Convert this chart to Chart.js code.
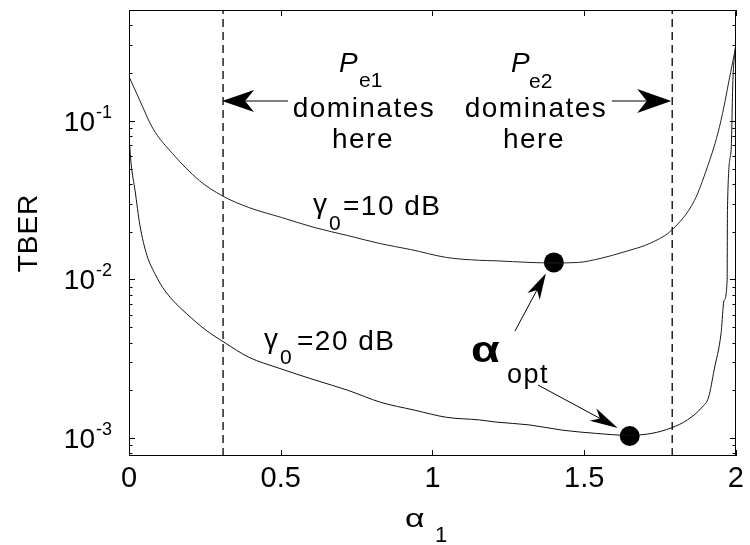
<!DOCTYPE html>
<html><head><meta charset="utf-8">
<script src="https://cdn.jsdelivr.net/npm/chart.js@4.4.1/dist/chart.umd.min.js"></script>
<style>html,body{margin:0;padding:0;background:#fff}#wrap{width:750px;height:545px}</style>
</head><body><div id="wrap"><canvas id="c" width="750" height="545"></canvas></div>
<script>
// ---- data ----
const alpha10 = [0, 0.036, 0.078, 0.144, 0.232, 0.307, 0.395, 0.502, 0.613, 0.721, 0.829, 0.927, 1.047, 1.155, 1.21, 1.318, 1.4, 1.481, 1.556, 1.631, 1.723, 1.79, 1.863, 1.905, 1.94, 1.961, 1.975, 1.99, 2.0];
const tber10  = [0.19, 0.134, 0.090, 0.062, 0.042, 0.0337, 0.0284, 0.0246, 0.0212, 0.0189, 0.0168, 0.01545, 0.01375, 0.0132, 0.0131, 0.0128, 0.0127, 0.0128, 0.0136, 0.0149, 0.0171, 0.0206, 0.0314, 0.0506, 0.0828, 0.124, 0.171, 0.238, 0.296];
const alpha20 = [0, 0.007, 0.02, 0.036, 0.059, 0.085, 0.111, 0.144, 0.189, 0.254, 0.313, 0.395, 0.493, 0.613, 0.721, 0.829, 0.94, 1.047, 1.155, 1.21, 1.318, 1.429, 1.537, 1.644, 1.723, 1.788, 1.84, 1.889, 1.91, 1.928, 1.951, 1.961, 1.971, 1.972, 1.984, 1.99, 2.0];
const tber20  = [0.08, 0.0537, 0.0363, 0.0219, 0.0142, 0.0109, 0.0089, 0.0074, 0.0061, 0.00478, 0.00402, 0.00323, 0.00276, 0.00232, 0.0020, 0.00168, 0.0015, 0.00135, 0.0013, 0.00126, 0.00121, 0.00112, 0.00107, 0.00104, 0.00107, 0.00116, 0.0013, 0.00157, 0.00181, 0.00268, 0.00457, 0.00738, 0.0099, 0.0272, 0.0647, 0.179, 0.318];
const optAlpha = [1.4, 1.65];
const optTber  = [0.0128, 0.00103];
const boundaryAlpha = [0.31, 1.79];
const xTickValues = [0, 0.5, 1, 1.5, 2];
const yTickValues = [0.001, 0.01, 0.1];
const yTickExponents = ['-3', '-2', '-1'];
const yMin = 7.7e-4, yMax = 0.5;

const FONT = '"Liberation Sans", Arial, Helvetica, sans-serif';
const pts = (xs, ys) => xs.map((x, i) => ({x: x, y: ys[i]}));

function arrow(ctx, x1, y1, x2, y2, len, half) {
  const dx = x2 - x1, dy = y2 - y1, L = Math.hypot(dx, dy);
  const ux = dx / L, uy = dy / L, nx = -uy, ny = ux;
  const bx = x2 - ux * len, by = y2 - uy * len;
  const mx = x2 - ux * len * 0.72, my = y2 - uy * len * 0.72;
  ctx.beginPath(); ctx.moveTo(x1, y1); ctx.lineTo(mx, my); ctx.stroke();
  ctx.beginPath();
  ctx.moveTo(x2, y2);
  ctx.lineTo(bx + nx * half, by + ny * half);
  ctx.lineTo(mx, my);
  ctx.lineTo(bx - nx * half, by - ny * half);
  ctx.closePath(); ctx.fill();
}
function txt(ctx, s, x, y, size, opts) {
  opts = opts || {};
  ctx.font = (opts.style || '') + ' ' + size + 'px ' + FONT;
  ctx.textAlign = opts.align || 'left';
  ctx.textBaseline = 'alphabetic';
  try { ctx.letterSpacing = (opts.ls || 0) + 'px'; } catch (e) {}
  ctx.fillText(s, x, y);
  try { ctx.letterSpacing = '0px'; } catch (e) {}
}

const decor = {
  id: 'decor',
  afterDraw(chart) {
    const ctx = chart.ctx, a = chart.chartArea;
    const xs = chart.scales.x, ys = chart.scales.y;
    ctx.save();
    ctx.strokeStyle = '#000'; ctx.fillStyle = '#000'; ctx.lineWidth = 1;
    // frame
    ctx.strokeRect(Math.round(a.left) + 0.5, Math.round(a.top) + 0.5, Math.round(a.right - a.left) - 1, Math.round(a.bottom - a.top) - 1);
    // inward ticks
    ctx.beginPath();
    xTickValues.forEach(v => {
      const px = Math.round(xs.getPixelForValue(v)) + 0.5;
      ctx.moveTo(px, a.bottom); ctx.lineTo(px, a.bottom - 6);
      ctx.moveTo(px, a.top); ctx.lineTo(px, a.top + 6);
    });
    for (let e = -4; e <= 0; e++) {
      for (let m = 1; m <= 9; m++) {
        const v = m * Math.pow(10, e);
        if (v < yMin || v > yMax) continue;
        const py = Math.round(ys.getPixelForValue(v)) + 0.5;
        const len = m === 1 ? 6 : 3.5;
        ctx.moveTo(a.left, py); ctx.lineTo(a.left + len, py);
        ctx.moveTo(a.right, py); ctx.lineTo(a.right - len, py);
      }
    }
    ctx.stroke();
    // y tick labels 10^k
    yTickValues.forEach((v, i) => {
      const py = ys.getPixelForValue(v);
      txt(ctx, yTickExponents[i], 112, py - 3, 18, {align: 'right'});
      ctx.font = '18px ' + FONT;
      const w = ctx.measureText(yTickExponents[i]).width;
      txt(ctx, '10', 112 - w - 1, py + 10, 28, {align: 'right'});
    });
    // y title
    ctx.save();
    ctx.translate(27, (a.top + a.bottom) / 2);
    ctx.rotate(-Math.PI / 2);
    txt(ctx, 'TBER', 0, 10, 28, {align: 'center', ls: 1});
    ctx.restore();
    // x title alpha_1
    ctx.save(); ctx.translate(405, 527); ctx.scale(1.35, 1);
    txt(ctx, '\u03b1', 0, 0, 25, {}); ctx.restore();
    txt(ctx, '1', 435, 542, 22, {});
    // P_e1 / P_e2 annotations
    txt(ctx, 'P', 339, 72, 28, {style: 'italic'});
    txt(ctx, 'e1', 359, 87, 21, {});
    txt(ctx, 'dominates', 364, 117, 28, {align: 'center', ls: 1.5});
    txt(ctx, 'here', 363, 148, 28, {align: 'center', ls: 1.5});
    txt(ctx, 'P', 511, 72, 28, {style: 'italic'});
    txt(ctx, 'e2', 529, 88, 21, {});
    txt(ctx, 'dominates', 536, 117, 28, {align: 'center', ls: 1.5});
    txt(ctx, 'here', 534, 148, 28, {align: 'center', ls: 1.5});
    const b1 = xs.getPixelForValue(boundaryAlpha[0]);
    const b2 = xs.getPixelForValue(boundaryAlpha[1]);
    arrow(ctx, 288, 101, b1 - 1, 101, 32, 11);
    arrow(ctx, 612, 101, b2 - 1, 101, 34, 12);
    // gamma labels
    txt(ctx, '\u03b3', 313, 213, 28, {});
    txt(ctx, '0', 329, 230, 21, {});
    txt(ctx, '=10 dB', 343, 215, 28, {ls: 1.5});
    txt(ctx, '\u03b3', 264, 348, 28, {});
    txt(ctx, '0', 280, 364, 21, {});
    txt(ctx, '=20 dB', 297, 350, 28, {ls: 1.5});
    // alpha_opt
    ctx.save(); ctx.translate(471, 362); ctx.scale(1.3, 1);
    txt(ctx, '\u03b1', 0, 0, 36, {style: 'bold'}); ctx.restore();
    txt(ctx, 'opt', 507, 383, 27, {ls: 1.5});
    const d1x = xs.getPixelForValue(optAlpha[0]), d1y = ys.getPixelForValue(optTber[0]);
    const d2x = xs.getPixelForValue(optAlpha[1]), d2y = ys.getPixelForValue(optTber[1]);
    arrow(ctx, 515, 331, d1x - 8, d1y + 11, 26, 7);
    arrow(ctx, 538, 385, d2x - 12, d2y - 8, 28, 7);
    ctx.restore();
  }
};

const vline = (b) => ({
  data: [{x: b, y: yMin}, {x: b, y: yMax}],
  borderColor: '#000', borderWidth: 1.3, borderDash: [8, 5], pointRadius: 0, showLine: true, fill: false
});

new Chart(document.getElementById('c'), {
  type: 'scatter',
  data: {
    datasets: [
      {label: '\u03b30=10 dB', data: pts(alpha10, tber10), showLine: true, borderColor: '#222', borderWidth: 1, pointRadius: 0, cubicInterpolationMode: 'monotone', fill: false},
      {label: '\u03b30=20 dB', data: pts(alpha20, tber20), showLine: true, borderColor: '#111', borderWidth: 1, pointRadius: 0, cubicInterpolationMode: 'monotone', fill: false},
      {label: '\u03b1opt', data: pts(optAlpha, optTber), showLine: false, pointRadius: 10, pointBackgroundColor: '#000', pointBorderColor: '#000', pointBorderWidth: 0},
      vline(boundaryAlpha[0]),
      vline(boundaryAlpha[1])
    ]
  },
  options: {
    responsive: false, animation: false, devicePixelRatio: 1,
    layout: {padding: {top: 9, right: 9, left: 0, bottom: 0}},
    plugins: {legend: {display: false}, tooltip: {enabled: false}},
    scales: {
      x: {
        type: 'linear', min: 0, max: 2,
        afterBuildTicks: s => { s.ticks = xTickValues.map(v => ({value: v})); },
        afterFit: s => { s.height = 89; },
        grid: {display: false, drawTicks: false}, border: {display: false},
        ticks: {color: '#000', padding: 6, font: {family: FONT, size: 29}, maxRotation: 0, autoSkip: false,
                callback: v => String(v)}
      },
      y: {
        type: 'logarithmic', min: yMin, max: yMax,
        afterFit: s => { s.width = 129; },
        grid: {display: false, drawTicks: false}, border: {display: false},
        ticks: {display: false}
      }
    }
  },
  plugins: [decor]
});
</script></body></html>
